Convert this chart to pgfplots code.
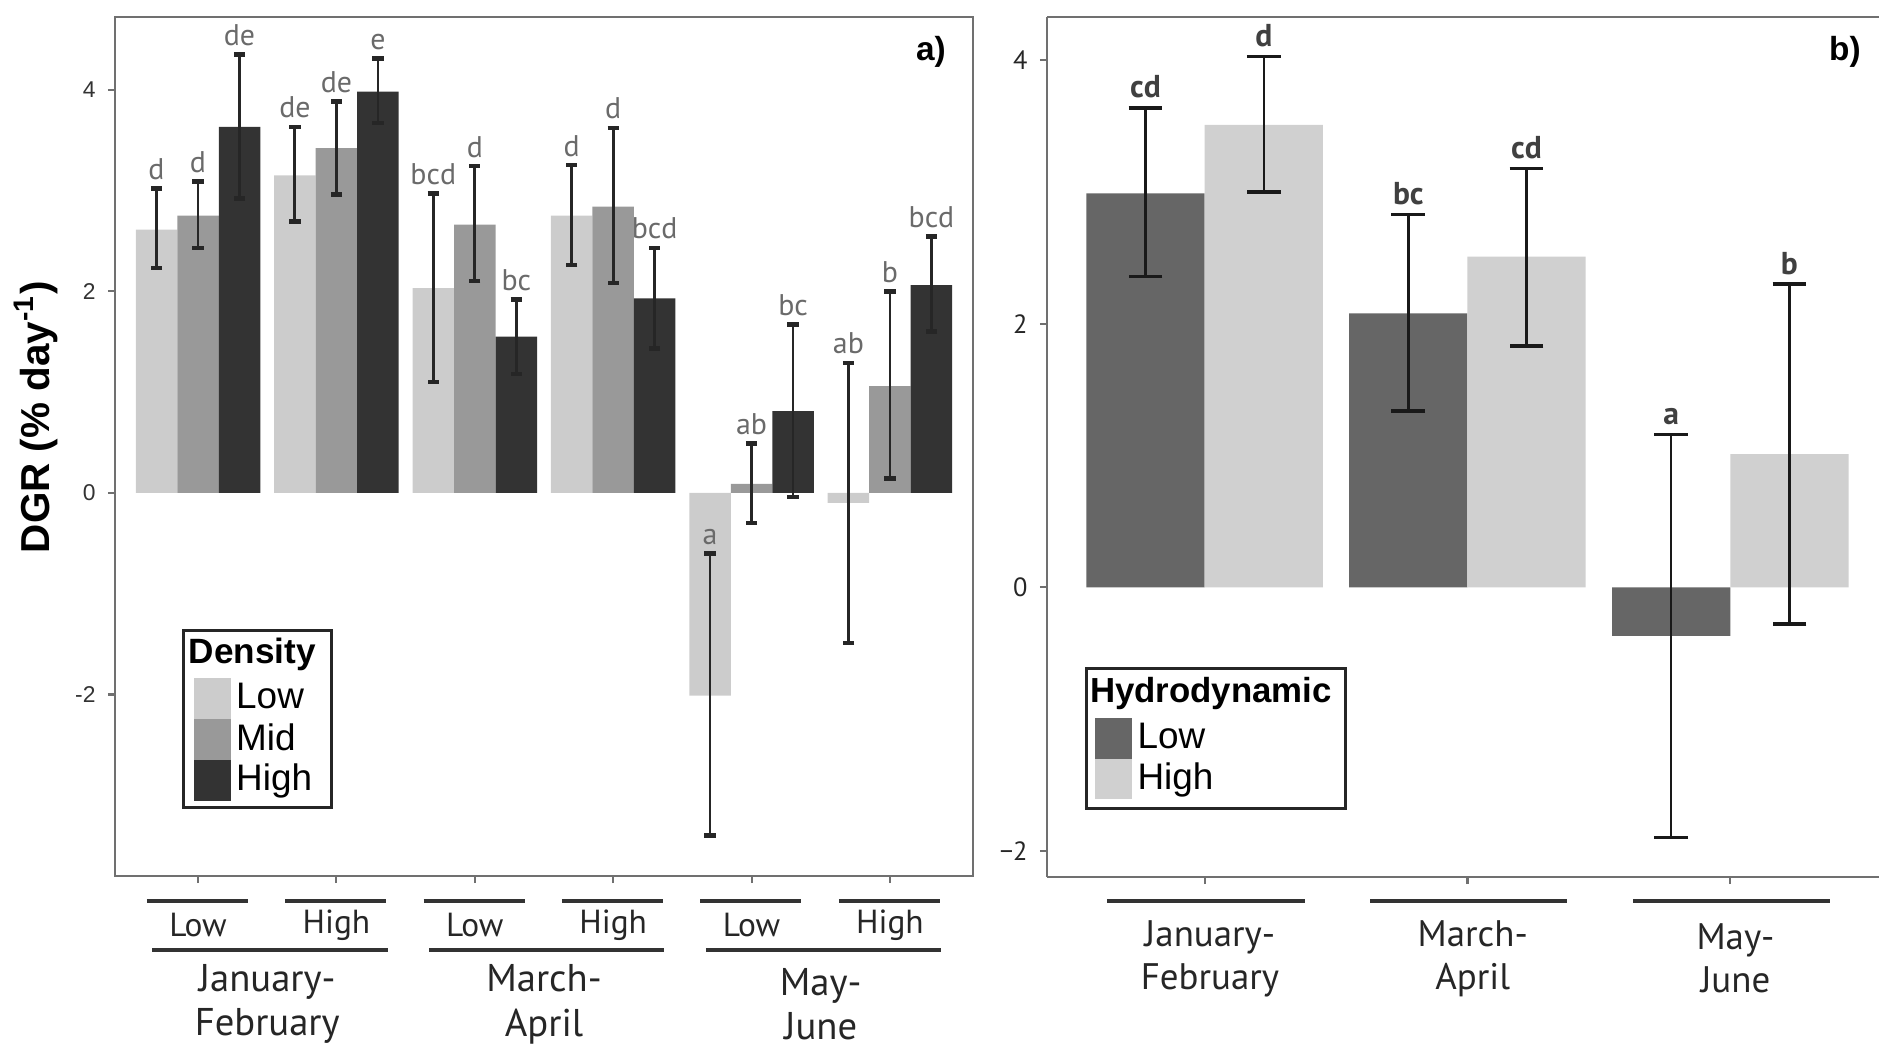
\documentclass[border=0pt]{standalone}
\usepackage{fontspec}
\setmainfont{Liberation Sans}
\newfontfamily\ptsans{PT Sans}
\usepackage{pgfplots}
\usepackage{pgfplotstable}
\pgfplotsset{compat=1.18}
\definecolor{dLow}{HTML}{CCCCCC}
\definecolor{dMid}{HTML}{999999}
\definecolor{dHigh}{HTML}{333333}
\definecolor{hLow}{HTML}{666666}
\definecolor{hHigh}{HTML}{D0D0D0}
\definecolor{framec}{HTML}{707070}
\definecolor{lettergray}{HTML}{6A6A6A}

% Panel a: density (Low / Mid / High) within hydrodynamic (Low/High) within period
\pgfplotstableread{
x y ep em lab
0.7 2.61 0.41 0.38 d
1.7 3.15 0.48 0.46 de
2.7 2.03 0.94 0.93 bcd
3.7 2.75 0.50 0.49 d
4.7 -2.01 1.41 1.39 a
5.7 -0.10 1.39 1.39 ab
}\denLow
\pgfplotstableread{
x y ep em lab
1 2.75 0.34 0.32 d
2 3.42 0.46 0.46 de
3 2.66 0.58 0.56 d
4 2.84 0.78 0.76 d
5 0.09 0.40 0.39 ab
6 1.06 0.94 0.92 b
}\denMid
\pgfplotstableread{
x y ep em lab
1.3 3.63 0.72 0.71 de
2.3 3.98 0.33 0.31 e
3.3 1.55 0.37 0.37 bc
4.3 1.93 0.50 0.50 bcd
5.3 0.81 0.86 0.85 bc
6.3 2.06 0.48 0.46 bcd
}\denHigh
% Panel b: hydrodynamic within period
\pgfplotstableread{
x y ep em lab
0.775 2.99 0.65 0.63 cd
1.775 2.08 0.75 0.74 bc
2.775 -0.37 1.53 1.53 a
}\hydLow
\pgfplotstableread{
x y ep em lab
1.225 3.51 0.52 0.51 d
2.225 2.51 0.67 0.68 cd
3.225 1.01 1.29 1.29 b
}\hydHigh

\pgfplotsset{
  swatch/.style={legend image code/.code={\fill[#1] (0pt,-5.8pt) rectangle (10.5pt,5.8pt);}},
}
\tikzset{grpline/.style={line width=1.1pt, draw=black!80, line cap=butt}}

\begin{document}
\begin{tikzpicture}
\path[use as bounding box] (0,0) rectangle (187.9mm,104.5mm);

% ---------------- panel a ----------------
\begin{axis}[
  at={(11.5mm,16.9mm)}, anchor=south west,
  width=85.8mm, height=85.9mm, scale only axis,
  xmin=0.4, xmax=6.6, ymin=-3.80, ymax=4.72,
  xtick={1,2,3,4,5,6}, xticklabels={,,,,,},
  ytick={-2,0,2,4}, yticklabels={-2,0,2,4},
  tick align=outside, major tick length=2pt,
  xtick pos=bottom, ytick pos=left,
  tick style={framec, line width=0.6pt},
  axis line style={framec, line width=0.8pt},
  yticklabel style={font=\fontsize{6.5}{8}\selectfont, text=black!80},
  clip=false,
  ylabel={\bfseries DGR (\% day\textsuperscript{-1})},
  ylabel style={at={(axis description cs:-0.092,0.534)}, anchor=center, font=\fontsize{11.5}{13}\selectfont},
  legend style={at={(axis description cs:0.078,0.2875)}, anchor=north west,
    draw=black!85, line width=0.9pt, fill=white,
    font=\fontsize{10.5}{11}\selectfont, inner xsep=3pt, inner ysep=2pt,
    row sep=0pt, nodes={inner ysep=0pt, inner xsep=1.5pt}},
  legend cell align=left,
]
\addlegendimage{empty legend}
\addlegendentry{\hspace*{-13.5pt}\raisebox{2.8pt}{\textbf{\fontsize{10}{11}\selectfont Density}}}
\addplot[ybar, bar width=0.3, bar shift=0pt, fill=dLow, draw=none, swatch=dLow,
  error bars/.cd, y dir=both, y explicit, error mark=|,
  error bar style={line width=0.8pt, black!85},
  error mark options={line width=1.3pt, mark size=1.6pt, black!85}]
  table[x=x, y=y, y error plus=ep, y error minus=em]{\denLow};
\addlegendentry{Low}
\addplot[ybar, bar width=0.3, bar shift=0pt, fill=dMid, draw=none, swatch=dMid,
  error bars/.cd, y dir=both, y explicit, error mark=|,
  error bar style={line width=0.8pt, black!85},
  error mark options={line width=1.3pt, mark size=1.6pt, black!85}]
  table[x=x, y=y, y error plus=ep, y error minus=em]{\denMid};
\addlegendentry{Mid}
\addplot[ybar, bar width=0.3, bar shift=0pt, fill=dHigh, draw=none, swatch=dHigh,
  error bars/.cd, y dir=both, y explicit, error mark=|,
  error bar style={line width=0.8pt, black!85},
  error mark options={line width=1.3pt, mark size=1.6pt, black!85}]
  table[x=x, y=y, y error plus=ep, y error minus=em]{\denHigh};
\addlegendentry{High}
% significance letters
\addplot[draw=none, mark=none, nodes near coords, point meta=explicit symbolic,
  nodes near coords style={anchor=south, font=\ptsans\fontsize{8.5}{9}\selectfont, text=lettergray, inner sep=0.8pt, yshift=1.5pt}]
  table[x=x, y expr=\thisrow{y}+\thisrow{ep}, meta=lab]{\denLow};
\addplot[draw=none, mark=none, nodes near coords, point meta=explicit symbolic,
  nodes near coords style={anchor=south, font=\ptsans\fontsize{8.5}{9}\selectfont, text=lettergray, inner sep=0.8pt, yshift=1.5pt}]
  table[x=x, y expr=\thisrow{y}+\thisrow{ep}, meta=lab]{\denMid};
\addplot[draw=none, mark=none, nodes near coords, point meta=explicit symbolic,
  nodes near coords style={anchor=south, font=\ptsans\fontsize{8.5}{9}\selectfont, text=lettergray, inner sep=0.8pt, yshift=1.5pt}]
  table[x=x, y expr=\thisrow{y}+\thisrow{ep}, meta=lab]{\denHigh};
% panel tag
\node[font=\bfseries\fontsize{9.5}{11}\selectfont] at (axis description cs:0.951,0.959) {a)};
% nested category labels
\draw[grpline] (axis cs:0.63,-4.05) -- (axis cs:1.36,-4.05);
\draw[grpline] (axis cs:1.63,-4.05) -- (axis cs:2.36,-4.05);
\draw[grpline] (axis cs:2.63,-4.05) -- (axis cs:3.36,-4.05);
\draw[grpline] (axis cs:3.63,-4.05) -- (axis cs:4.36,-4.05);
\draw[grpline] (axis cs:4.63,-4.05) -- (axis cs:5.36,-4.05);
\draw[grpline] (axis cs:5.63,-4.05) -- (axis cs:6.36,-4.05);
\begin{scope}[every node/.style={font=\ptsans\fontsize{9.5}{11}\selectfont, text=black!85}]
\node at (axis cs:1,-4.29) {Low};
\node at (axis cs:2,-4.29) {High};
\node at (axis cs:3,-4.29) {Low};
\node at (axis cs:4,-4.29) {High};
\node at (axis cs:5,-4.29) {Low};
\node at (axis cs:6,-4.29) {High};
\end{scope}
\draw[grpline] (axis cs:0.67,-4.53) -- (axis cs:2.37,-4.53);
\draw[grpline] (axis cs:2.67,-4.53) -- (axis cs:4.37,-4.53);
\draw[grpline] (axis cs:4.67,-4.53) -- (axis cs:6.37,-4.53);
\begin{scope}[every node/.style={font=\ptsans\fontsize{11}{12.7}\selectfont, text=black!85, align=center}]
\node at (axis cs:1.5,-5.07) {January-\\February};
\node at (axis cs:3.5,-5.07) {March-\\April};
\node at (axis cs:5.5,-5.07) {May-\\June};
\end{scope}
\end{axis}

% ---------------- panel b ----------------
\begin{axis}[
  at={(104.7mm,16.8mm)}, anchor=south west,
  width=83.2mm, height=86.0mm, scale only axis,
  xmin=0.4, xmax=3.566, ymin=-2.20, ymax=4.33,
  axis y line*=left, y axis line style={-},
  xtick={1,2,3}, xticklabels={,,},
  ytick={-2,0,2,4}, yticklabels={−2,0,2,4},
  tick align=outside, major tick length=2pt,
  xtick pos=bottom, ytick pos=left,
  tick style={framec, line width=0.6pt},
  axis line style={framec, line width=0.8pt},
  yticklabel style={font=\ptsans\fontsize{7.5}{8}\selectfont, text=black!85},
  clip=false,
  legend style={at={(axis description cs:0.0457,0.244)}, anchor=north west,
    draw=black!85, line width=0.9pt, fill=white,
    font=\fontsize{10.5}{11}\selectfont, inner xsep=2.5pt, inner ysep=2.5pt,
    row sep=0pt, nodes={inner ysep=0pt, inner xsep=1.5pt}},
  legend cell align=left,
]
\addlegendimage{empty legend}
\addlegendentry{\hspace*{-13.5pt}\raisebox{2.8pt}{\textbf{\fontsize{9.9}{11}\selectfont Hydrodynamic}}}
\addplot[ybar, bar width=0.45, bar shift=0pt, fill=hLow, draw=none, swatch=hLow,
  error bars/.cd, y dir=both, y explicit, error mark=|,
  error bar style={line width=0.7pt, black!90},
  error mark options={line width=1.1pt, mark size=4.8pt, black!90}]
  table[x=x, y=y, y error plus=ep, y error minus=em]{\hydLow};
\addlegendentry{Low}
\addplot[ybar, bar width=0.45, bar shift=0pt, fill=hHigh, draw=none, swatch=hHigh,
  error bars/.cd, y dir=both, y explicit, error mark=|,
  error bar style={line width=0.7pt, black!90},
  error mark options={line width=1.1pt, mark size=4.8pt, black!90}]
  table[x=x, y=y, y error plus=ep, y error minus=em]{\hydHigh};
\addlegendentry{High}
\addplot[draw=none, mark=none, nodes near coords, point meta=explicit symbolic,
  nodes near coords style={anchor=south, font=\ptsans\bfseries\fontsize{9}{10}\selectfont, text=black!75, inner sep=1pt, yshift=1.5pt}]
  table[x=x, y expr=\thisrow{y}+\thisrow{ep}, meta=lab]{\hydLow};
\addplot[draw=none, mark=none, nodes near coords, point meta=explicit symbolic,
  nodes near coords style={anchor=south, font=\ptsans\bfseries\fontsize{9}{10}\selectfont, text=black!75, inner sep=1pt, yshift=1.5pt}]
  table[x=x, y expr=\thisrow{y}+\thisrow{ep}, meta=lab]{\hydHigh};
\node[font=\bfseries\fontsize{9.5}{11}\selectfont] at (axis description cs:0.959,0.959) {b)};
\draw[grpline] (axis cs:0.63,-2.38) -- (axis cs:1.38,-2.38);
\draw[grpline] (axis cs:1.63,-2.38) -- (axis cs:2.38,-2.38);
\draw[grpline] (axis cs:2.63,-2.38) -- (axis cs:3.38,-2.38);
\begin{scope}[every node/.style={font=\ptsans\fontsize{10.5}{12.2}\selectfont, text=black!85, align=center}]
\node at (axis cs:1.02,-2.82) {January-\\February};
\node at (axis cs:2.02,-2.82) {March-\\April};
\node at (axis cs:3.02,-2.82) {May-\\June};
\end{scope}
\end{axis}
\end{tikzpicture}
\end{document}
